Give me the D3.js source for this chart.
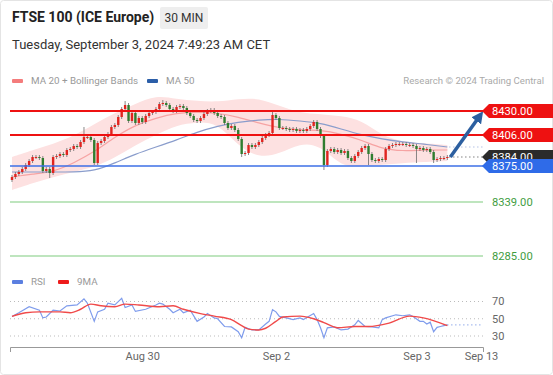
<!DOCTYPE html>
<html>
<head>
<meta charset="utf-8">
<script src="https://cdn.jsdelivr.net/npm/d3@7"></script>
<style>
body { margin: 0; background: #fff; }
svg { display: block; font-family: Roboto, Arial, sans-serif; }
</style>
</head>
<body>
<svg id="chart"></svg>
<script>
// 30 min candles, index 0 = first bar on the left
const opens = [8361,8364,8367,8369,8372,8376,8380,8384,8384,8383,8370,8372,8368,8384,8385,8387,8386,8391,8392,8395,
  8394,8399,8404,8404,8401,8378,8398,8400,8404,8407,8414,8416,8424,8432,8436,8420,8428,8418,8423,8419,
  8425,8428,8429,8432,8437,8438,8436,8432,8430,8434,8435,8433,8428,8425,8421,8420,8423,8427,8430,8431,
  8428,8425,8424,8418,8413,8415,8411,8402,8387,8388,8396,8394,8396,8399,8403,8406,8408,8426,8423,8413,
  8413,8412,8411,8412,8410,8411,8410,8412,8415,8419,8412,8405,8376,8390,8392,8389,8391,8388,8390,8383,
  8380,8385,8389,8393,8395,8387,8381,8380,8382,8381,8392,8395,8396,8397,8397,8397,8396,8396,8395,8392,
  8393,8391,8392,8389,8381,8382,8383,8383];
const closes = [8364,8367,8369,8372,8376,8380,8384,8384,8383,8370,8372,8368,8384,8385,8387,8386,8391,8392,8395,8394,
  8399,8404,8404,8401,8378,8398,8400,8404,8407,8414,8416,8424,8432,8436,8420,8428,8418,8423,8419,8425,
  8428,8429,8432,8437,8438,8436,8432,8430,8434,8435,8433,8428,8425,8421,8420,8423,8427,8430,8431,8428,
  8425,8424,8418,8413,8415,8411,8402,8387,8388,8396,8394,8396,8399,8403,8406,8408,8426,8423,8413,8413,
  8412,8411,8412,8410,8411,8410,8412,8415,8419,8412,8405,8376,8390,8392,8389,8391,8388,8390,8383,8380,
  8385,8389,8393,8395,8387,8381,8380,8382,8381,8392,8395,8396,8397,8397,8397,8396,8396,8395,8392,8393,
  8391,8392,8389,8381,8382,8383,8383,8384];
const highs = [8366,8369,8371,8374,8378,8382,8386,8386,8386,8385,8374,8374,8386,8387,8389,8389,8393,8394,8397,8397,
  8401,8414,8407,8406,8403,8400,8402,8406,8409,8416,8418,8426,8434,8440,8438,8430,8430,8425,8425,8427,
  8430,8431,8434,8439,8441,8440,8438,8434,8436,8437,8437,8435,8430,8427,8423,8425,8429,8432,8433,8433,
  8430,8427,8426,8420,8417,8417,8413,8404,8390,8398,8398,8398,8401,8405,8408,8410,8429,8428,8425,8415,
  8415,8414,8414,8414,8413,8413,8414,8417,8421,8421,8414,8407,8392,8394,8394,8393,8393,8392,8392,8385,
  8387,8391,8395,8397,8397,8389,8383,8384,8384,8394,8397,8398,8399,8399,8399,8399,8398,8398,8397,8395,
  8395,8394,8394,8391,8384,8385,8385,8386];
const lows = [8359,8362,8365,8367,8370,8374,8378,8382,8381,8368,8368,8363,8366,8382,8383,8384,8384,8389,8390,8392,
  8392,8397,8402,8399,8376,8376,8396,8398,8402,8405,8412,8414,8422,8430,8418,8418,8416,8416,8417,8417,
  8423,8426,8427,8430,8435,8434,8430,8428,8428,8432,8431,8426,8423,8419,8418,8418,8421,8425,8428,8426,
  8423,8422,8416,8411,8411,8409,8400,8384,8385,8386,8392,8392,8394,8397,8401,8404,8406,8421,8411,8411,
  8410,8409,8409,8408,8408,8408,8408,8410,8413,8410,8403,8371,8374,8388,8387,8387,8386,8386,8381,8378,
  8378,8383,8387,8391,8376,8379,8378,8378,8379,8379,8390,8393,8394,8395,8395,8394,8394,8393,8378,8390,
  8389,8389,8387,8378,8379,8380,8381,8381];

// MA 20 + Bollinger Bands and MA 50, read at these bar indexes
const bandIdx = [0,6,12,18,24,30,36,42,48,54,60,66,72,78,84,90,96,102,108,114,120,127];
const bbUpper = [8384,8391,8397,8405,8417,8428,8437,8446,8442,8440,8439,8442,8443,8435,8428,8427,8425,8421,8405,8399,8398,8396];
const bbLower = [8351,8358,8364,8369,8374,8383,8396,8406,8416,8419,8418,8395,8383,8387,8398,8396,8374,8375,8376,8378,8379,8380];
const ma20 = [8364,8367,8369,8378,8389,8404,8416,8423,8428,8429,8428,8424,8418,8413,8411,8411,8407,8401,8392,8390,8391,8391];
const ma50 = [8369,8369,8369,8369,8370,8378,8387,8394,8401,8409,8415,8419,8421,8422,8420,8418,8412,8406,8402,8399,8397,8394];

// RSI and its 9 period MA
const rsiIdx = [0,2,5,8,9,10,12,14,16,19,21,22,24,25,27,28,30,32,33,35,36,39,42,43,44,46,47,49,50,52,54,56,57,59,60,62,64,66,67,68,
  70,72,74,75,76,77,78,80,82,84,85,88,89,90,91,92,94,96,98,100,101,103,105,107,108,109,112,114,116,117,119,120,121,122,123,124,125,126,127];
const rsiVal = [52.7,57,64,60,51,52,60,59,65,66,73,68,47,58,61,68,66,73.6,63,66,58.5,61,66,68,67,61,57,61,57,60,47,52,56,51,50,41,40.5,35,28,40,
  37,37,44,47,60.5,58,52.7,51,49,51,49,56,49,39.5,28,39.5,40.5,37,38,43,48,41,40.5,39.5,49,51,54.6,53.5,54.6,52.7,47,47,44,46,35,40,41,42,43];
const rsiMaIdx = [0,4,8,14,17,20,23,26,30,33,37,43,47,50,55,59,64,67,69,72,74,77,79,84,88,91,95,100,104,110,116,120,127];
const rsiMaVal = [52.7,57,58,58,57,61,67,65,64,67,66,64,65,61,56,53,49,42,38,37,39,47,52,53,50,45.5,39.5,41,41,45,53,51,42];
const rsiTicks = [70, 50, 30];

// levels and axis labels
const levelPrices = [8430, 8406, 8375, 8339, 8285];
const levelTypes = ["res", "res", "pivot", "sup", "sup"];
const lastPrice = 8384;
const targetPrice = 8430;
const tickIdx = [38, 77, 118, 136.8];
const tickLabels = ["Aug 30", "Sep 2", "Sep 3", "Sep 13"];

const W = 553, H = 375;
const levelColor = { res: "#ee1111", pivot: "#3d6fe6", sup: "#a9dca9" };
const upColor = "#e0241f", downColor = "#2f7d2f";

let svg = d3.select("#chart").attr("width", W).attr("height", H);

svg.append("rect")
    .attr("x", 0.5).attr("y", 0.5)
    .attr("width", W - 1).attr("height", H - 1)
    .attr("rx", 3)
    .style("fill", "#fff")
    .style("stroke", "#e4e4e4");

let x = d3.scaleLinear().domain([-0.58, 137.4]).range([10, 483]);
let y = d3.scaleLinear().domain([8285, 8430]).range([256, 111]);
let yR = d3.scaleLinear().domain([30, 70]).range([336, 301.5]);
let xEnd = x.range()[1];

// Header
svg.append("text").attr("x", 12).attr("y", 22)
    .text("FTSE 100 (ICE Europe)")
    .style("font-size", "14px").style("font-weight", "bold").attr("fill", "#222");
svg.append("rect").attr("x", 160).attr("y", 7).attr("width", 48).attr("height", 22).attr("rx", 2).attr("fill", "#eeeeee");
svg.append("text").attr("x", 184).attr("y", 22).attr("text-anchor", "middle")
    .text("30 MIN").style("font-size", "12px").attr("fill", "#333");
svg.append("text").attr("x", 12).attr("y", 49)
    .text("Tuesday, September 3, 2024 7:49:23 AM CET")
    .style("font-size", "13px").attr("fill", "#333");

// Legends
function legendItem (lx, ly, color, label) {
    svg.append("rect").attr("x", lx).attr("y", ly - 5).attr("width", 11).attr("height", 4).attr("rx", 1).attr("fill", color);
    svg.append("text").attr("x", lx + 19).attr("y", ly)
        .text(label).style("font-size", "9.8px").attr("fill", "#999");
}
legendItem(12, 84, "#f47c7c", "MA 20 + Bollinger Bands");
legendItem(147, 84, "#2b5ea8", "MA 50");
svg.append("text").attr("x", 544).attr("y", 84).attr("text-anchor", "end")
    .text("Research \u00a9 2024 Trading Central").style("font-size", "9.6px").attr("fill", "#aaa");
legendItem(12, 285, "#5b7fe0", "RSI");
legendItem(58, 285, "#ee1c1c", "9MA");

// Bollinger band fill
let bandData = bandIdx.map((d, i) => ({ i: d, up: bbUpper[i], lo: bbLower[i], m20: ma20[i], m50: ma50[i] }));
svg.append("path")
    .datum(bandData)
    .attr("d", d3.area().x(d => x(d.i)).y0(d => y(d.lo)).y1(d => y(d.up)).curve(d3.curveBasis))
    .style("fill", "#fde1e1");
svg.append("path")
    .datum(bandData)
    .attr("d", d3.line().x(d => x(d.i)).y(d => y(d.m20)).curve(d3.curveBasis))
    .style("fill", "none").style("stroke", "#f6a3a3").style("stroke-width", "1.2px");
svg.append("path")
    .datum(bandData)
    .attr("d", d3.line().x(d => x(d.i)).y(d => y(d.m50)).curve(d3.curveBasis))
    .style("fill", "none").style("stroke", "#8a9dcc").style("stroke-width", "1.2px");

// Candles
let candles = closes.map((c, i) => ({ i: i, o: opens[i], h: highs[i], l: lows[i], c: c }));
let cg = svg.append("g");
cg.selectAll(".wick")
    .data(candles)
    .join("line")
        .attr("class", "wick")
        .attr("x1", d => x(d.i)).attr("x2", d => x(d.i))
        .attr("y1", d => y(d.h)).attr("y2", d => y(d.l))
        .style("stroke", "#6b6b6b").style("stroke-width", "0.8px");
cg.selectAll(".body")
    .data(candles)
    .join("rect")
        .attr("class", "body")
        .attr("x", d => x(d.i) - 1.2)
        .attr("width", 2.4)
        .attr("y", d => y(Math.max(d.o, d.c)))
        .attr("height", d => Math.max(1, Math.abs(y(d.o) - y(d.c))))
        .style("fill", d => d.c >= d.o ? upColor : downColor);

// Extension of MA 50 and last price
let lastX = x(closes.length - 1);
svg.append("line")
    .attr("x1", lastX + 2).attr("x2", xEnd)
    .attr("y1", y(ma50[ma50.length - 1])).attr("y2", y(ma50[ma50.length - 1]))
    .style("stroke", "#8fa3d6").style("stroke-width", "1.2px").style("stroke-dasharray", "1,3");
svg.append("line")
    .attr("x1", lastX + 2).attr("x2", xEnd)
    .attr("y1", y(lastPrice)).attr("y2", y(lastPrice))
    .style("stroke", "#444").style("stroke-width", "1.2px").style("stroke-dasharray", "1,3");

// Support / resistance lines
svg.selectAll(".level")
    .data(levelPrices)
    .join("line")
        .attr("class", "level")
        .attr("x1", 10).attr("x2", xEnd)
        .attr("y1", d => y(d)).attr("y2", d => y(d))
        .style("stroke", (d, i) => levelColor[levelTypes[i]])
        .style("stroke-width", (d, i) => levelTypes[i] === "res" ? "2.2px" : "1.4px");

// Arrow to target
svg.append("defs").append("marker")
    .attr("id", "head")
    .attr("viewBox", "0 0 10 10")
    .attr("refX", 4).attr("refY", 5)
    .attr("markerWidth", 3.4).attr("markerHeight", 3.4)
    .attr("orient", "auto")
    .append("path").attr("d", "M0,0L10,5L0,10Z").attr("fill", "#2c5fa0");
svg.append("line")
    .attr("x1", lastX + 3).attr("y1", y(lastPrice))
    .attr("x2", xEnd - 4).attr("y2", y(targetPrice) + 6)
    .style("stroke", "#2c5fa0").style("stroke-width", "3.5px")
    .attr("marker-end", "url(#head)");

// Price tags on the right
let tags = [
    { p: levelPrices[0], fill: levelColor.res },
    { p: levelPrices[1], fill: levelColor.res },
    { p: lastPrice, fill: "#2b2b2b" },
    { p: levelPrices[2], fill: "#2f6be8" }
];
let tg = svg.selectAll(".tag")
    .data(tags)
    .join("g")
        .attr("class", "tag")
        .attr("transform", d => "translate(0," + y(d.p) + ")");
tg.append("path")
    .attr("d", "M482,0L489,-7H553V7H489Z")
    .attr("fill", d => d.fill);
tg.append("text")
    .attr("x", 492).attr("dy", "0.36em")
    .text(d => d.p.toFixed(2))
    .style("font-size", "11.2px").attr("fill", "#fff");
svg.selectAll(".supLabel")
    .data(levelPrices.filter((d, i) => levelTypes[i] === "sup"))
    .join("text")
        .attr("class", "supLabel")
        .attr("x", 492).attr("y", d => y(d)).attr("dy", "0.36em")
        .text(d => d.toFixed(2))
        .style("font-size", "11.2px").attr("fill", "#3f9d3f");

// RSI panel
svg.selectAll(".rsiGrid")
    .data(rsiTicks)
    .join("line")
        .attr("class", "rsiGrid")
        .attr("x1", 10).attr("x2", xEnd)
        .attr("y1", d => yR(d)).attr("y2", d => yR(d))
        .style("stroke", "#bbb").style("stroke-width", "1px").style("stroke-dasharray", "1,3");
svg.selectAll(".rsiTick")
    .data(rsiTicks)
    .join("text")
        .attr("class", "rsiTick")
        .attr("x", 492).attr("y", d => yR(d)).attr("dy", "0.35em")
        .text(d => d)
        .style("font-size", "11px").attr("fill", "#666");
let rsiData = rsiIdx.map((d, i) => [d, rsiVal[i]]);
let rsiMaData = rsiMaIdx.map((d, i) => [d, rsiMaVal[i]]);
svg.append("line")
    .attr("x1", x(rsiIdx[rsiIdx.length - 1])).attr("x2", xEnd)
    .attr("y1", yR(rsiVal[rsiVal.length - 1])).attr("y2", yR(rsiVal[rsiVal.length - 1]))
    .style("stroke", "#7d9ae6").style("stroke-width", "1.2px").style("stroke-dasharray", "1,3");
svg.append("path")
    .datum(rsiData)
    .attr("d", d3.line().x(d => x(d[0])).y(d => yR(d[1])))
    .style("fill", "none").style("stroke", "#7f9cec").style("stroke-width", "1.2px");
svg.append("path")
    .datum(rsiMaData)
    .attr("d", d3.line().x(d => x(d[0])).y(d => yR(d[1])).curve(d3.curveMonotoneX))
    .style("fill", "none").style("stroke", "#f04a4a").style("stroke-width", "1.4px");

// Time axis
let ax = svg.append("g")
    .attr("transform", "translate(0,347)")
    .call(d3.axisBottom(x)
        .tickValues(tickIdx)
        .tickFormat((d, i) => tickLabels[i])
        .tickSizeInner(0)
        .tickSizeOuter(5)
        .tickPadding(5));
ax.select(".domain").style("stroke", "#999");
ax.selectAll("text").style("font-size", "11px").style("font-family", "Roboto, Arial, sans-serif").attr("fill", "#666");
</script>
</body>
</html>
